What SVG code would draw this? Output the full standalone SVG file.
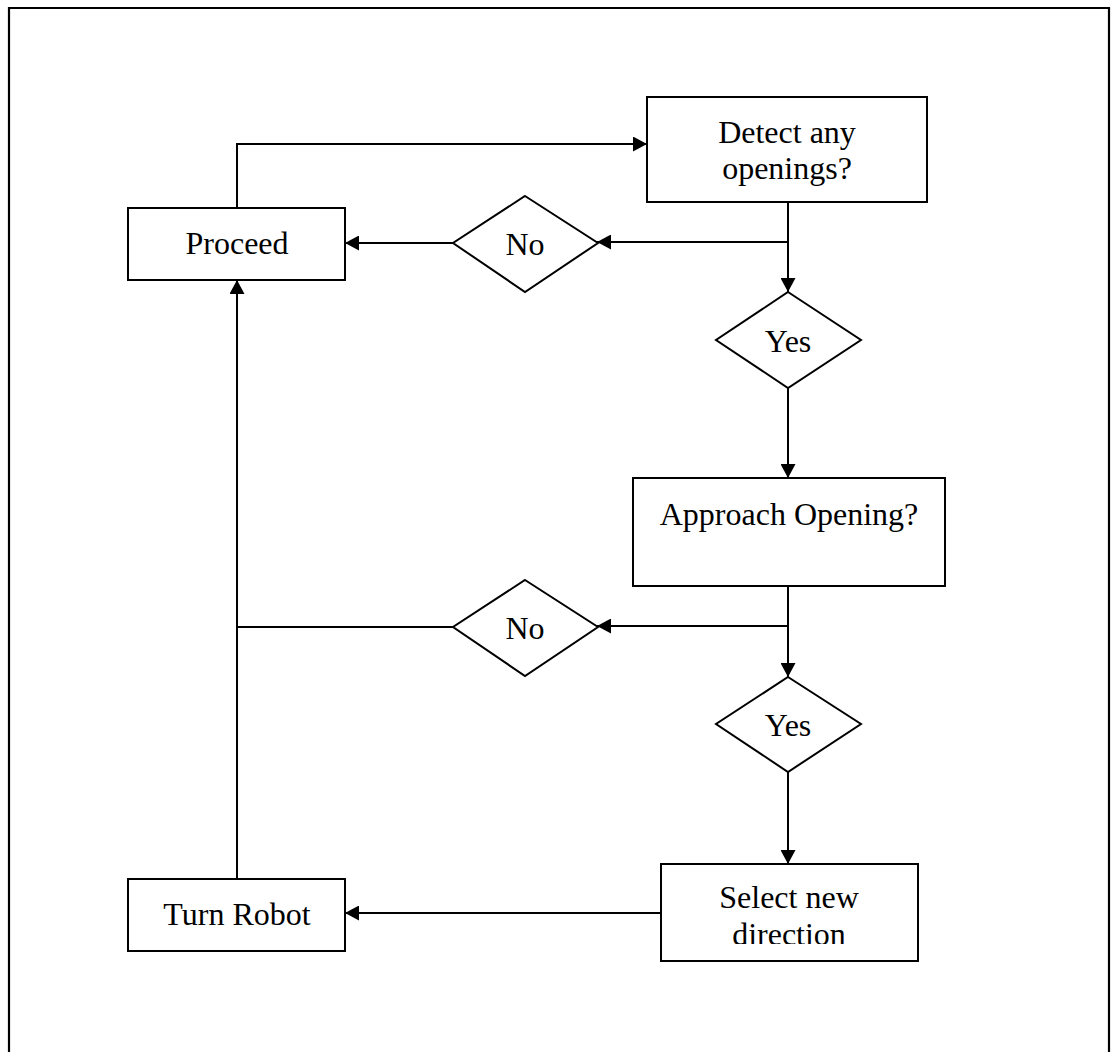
<svg xmlns="http://www.w3.org/2000/svg" width="1112" height="1052" viewBox="0 0 1112 1052">
  <style>
    .box { fill: #ffffff; stroke: #000000; stroke-width: 2; }
    .frame { fill: none; stroke: #000000; stroke-width: 2.2; }
    .edge { fill: none; stroke: #000000; stroke-width: 2; }
    .arrow { marker-end: url(#head); }
    text { font-family: "Liberation Serif", "Times New Roman", serif; font-size: 32px; fill: #000000; text-anchor: middle; }
  </style>
  <defs>
    <marker id="head" viewBox="0 0 14 15" refX="14" refY="7.5" markerWidth="14" markerHeight="15" markerUnits="userSpaceOnUse" orient="auto">
      <path d="M0,0 L14,7.5 L0,15 Z" fill="#000000"/>
    </marker>
    <!-- the second line of the "Select new direction" label is cut at the bottom -->
    <clipPath id="select-clip">
      <rect x="661" y="864" width="257" height="80"/>
    </clipPath>
  </defs>

  <rect width="1112" height="1052" fill="#ffffff"/>

  <!-- page frame, open at the bottom -->
  <path class="frame" d="M9,1052 V8 H1109 V1052"/>

  <!-- connectors -->
  <g id="connectors">
    <path class="edge arrow" d="M237,208 V144 H647"/>
    <path class="edge arrow" d="M788,202 V292"/>
    <path class="edge arrow" d="M788,242 H597"/>
    <path class="edge arrow" d="M453,243 H345"/>
    <path class="edge arrow" d="M788,388 V478"/>
    <path class="edge arrow" d="M788,586 V677"/>
    <path class="edge arrow" d="M788,626 H597"/>
    <path class="edge" d="M453,627 H237"/>
    <path class="edge arrow" d="M237,879 V280"/>
    <path class="edge arrow" d="M788,772 V864"/>
    <path class="edge arrow" d="M661,913 H345"/>
  </g>

  <g id="detect">
    <rect class="box" x="647" y="97" width="280" height="105"/>
    <text x="787" y="143">Detect any</text>
    <text x="787" y="179">openings?</text>
  </g>

  <g id="proceed">
    <rect class="box" x="128" y="208" width="217" height="72"/>
    <text x="237" y="254">Proceed</text>
  </g>

  <g id="no-detect">
    <polygon class="box" points="525,196 598,243 525,292 453,243"/>
    <text x="525" y="255">No</text>
  </g>

  <g id="yes-detect">
    <polygon class="box" points="788,292 861,340 788,388 716,340"/>
    <text x="788" y="352">Yes</text>
  </g>

  <g id="approach">
    <rect class="box" x="633" y="478" width="312" height="108"/>
    <text x="789" y="525">Approach Opening?</text>
  </g>

  <g id="no-approach">
    <polygon class="box" points="525,580 598,627 525,676 453,627"/>
    <text x="525" y="639">No</text>
  </g>

  <g id="yes-approach">
    <polygon class="box" points="788,677 861,724 788,772 716,724"/>
    <text x="788" y="736">Yes</text>
  </g>

  <g id="select">
    <rect class="box" x="661" y="864" width="257" height="97"/>
    <g clip-path="url(#select-clip)">
      <text x="789" y="908">Select new</text>
      <text x="789" y="945">direction</text>
    </g>
  </g>

  <g id="turn">
    <rect class="box" x="128" y="879" width="217" height="72"/>
    <text x="237" y="925">Turn Robot</text>
  </g>
</svg>
